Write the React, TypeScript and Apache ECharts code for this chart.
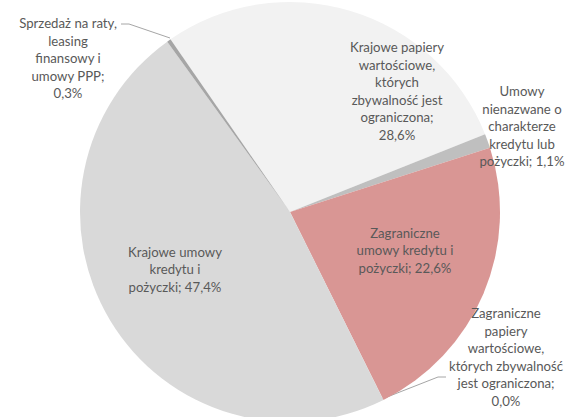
import React, { useEffect, useRef } from "react";
import * as echarts from "echarts";

const categories = [
  "Krajowe papiery wartościowe, których zbywalność jest ograniczona",
  "Umowy nienazwane o charakterze kredytu lub pożyczki",
  "Zagraniczne umowy kredytu i pożyczki",
  "Zagraniczne papiery wartościowe, których zbywalność jest ograniczona",
  "Krajowe umowy kredytu i pożyczki",
  "Sprzedaż na raty, leasing finansowy i umowy PPP",
];
const values = [28.6, 1.1, 22.6, 0.0, 47.4, 0.3];
const labelTexts = [
  "Krajowe papiery\nwartościowe,\nktórych\nzbywalność jest\nograniczona;\n28,6%",
  "Umowy\nnienazwane o\ncharakterze\nkredytu lub\npożyczki; 1,1%",
  "Zagraniczne\numowy kredytu i\npożyczki; 22,6%",
  "Zagraniczne\npapiery\nwartościowe,\nktórych zbywalność\njest ograniczona;\n0,0%",
  "Krajowe umowy\nkredytu i\npożyczki; 47,4%",
  "Sprzedaż na raty,\nleasing\nfinansowy i\numowy PPP;\n0,3%",
];
const colors = ["#f2f2f2", "#bfbfbf", "#d99694", "#c0504d", "#d9d9d9", "#a6a6a6"];

// label layout (positions of texts and leader lines)
const labelPos: [number, number][] = [
  [397, 91],
  [522, 126],
  [405, 250],
  [506, 357],
  [175, 269],
  [68, 58],
];
const leaderLines: Record<number, number[][]> = {
  3: [[382, 399], [438, 377], [446, 377]],
  5: [[170, 38], [129, 24], [121, 24]],
};

export default function App() {
  const ref = useRef<HTMLDivElement>(null);
  useEffect(() => {
    document.body.style.margin = "0";
    const chart = echarts.init(ref.current!, null, { renderer: "svg" });
    chart.setOption({
      animation: false,
      backgroundColor: "#ffffff",
      series: [
        {
          type: "pie",
          center: [290, 212],
          radius: [0, 210],
          startAngle: 124.7,
          clockwise: true,
          avoidLabelOverlap: false,
          minShowLabelAngle: 0,
          stillShowZeroSum: true,
          itemStyle: { borderWidth: 0 },
          label: {
            show: true,
            position: "inside",
            color: "#595959",
            fontFamily: "Lato",
            fontSize: 13.2,
            lineHeight: 17.5,
            align: "center",
            formatter: (p: any) => labelTexts[p.dataIndex],
          },
          labelLine: { show: false },
          labelLayout: (p: any) => {
            const pos = labelPos[p.dataIndex];
            const res: any = {
              x: pos[0],
              y: pos[1],
              align: "center",
              verticalAlign: "middle",
            };
            if (leaderLines[p.dataIndex]) res.labelLinePoints = leaderLines[p.dataIndex];
            return res;
          },
          data: categories.map((name, i) => {
            const item: any = {
              name,
              value: values[i],
              itemStyle: { color: colors[i] },
            };
            if (leaderLines[i]) {
              item.label = { position: "outside" };
              item.labelLine = {
                show: true,
                lineStyle: { color: "#a6a6a6", width: 1 },
                length: 10,
                length2: 10,
              };
            }
            return item;
          }),
        },
      ],
    });
    return () => chart.dispose();
  }, []);
  return <div ref={ref} style={{ width: 584, height: 417 }} />;
}
